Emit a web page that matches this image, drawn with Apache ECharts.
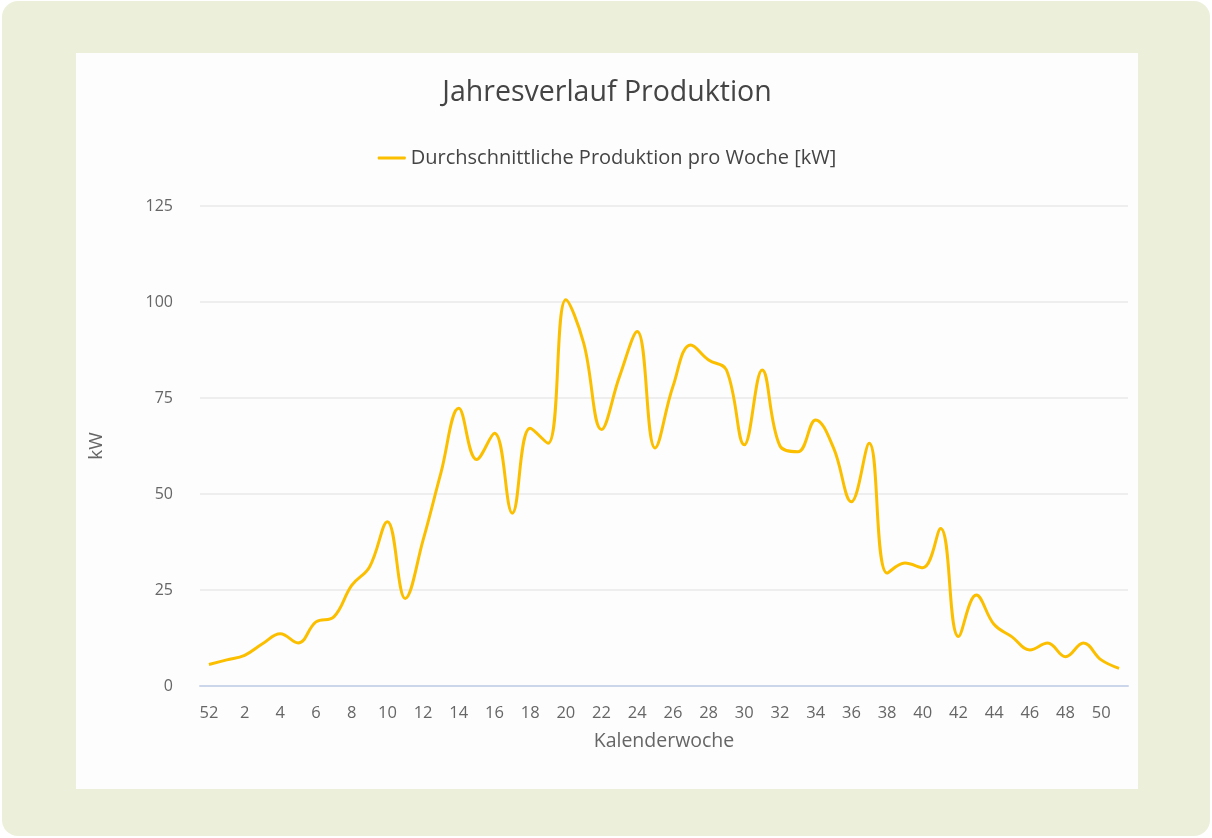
<!DOCTYPE html>
<html>
<head>
<meta charset="utf-8">
<script src="https://cdn.jsdelivr.net/npm/echarts@6/dist/echarts.min.js"></script>
<style>
  html, body { margin: 0; padding: 0; background: #ffffff; }
  #panel {
    position: absolute; left: 2px; top: 1px; width: 1208px; height: 835px;
    background: #ecf0db; border-radius: 16px;
  }
  #chart {
    position: absolute; left: 76px; top: 53px; width: 1062px; height: 736px;
    background: #fdfdfd;
  }
</style>
</head>
<body>
<div id="panel"></div>
<div id="chart"></div>
<script>
// Kalenderwochen: 52 of previous year, then 1..51
const weeks = ['52', '1', '2', '3', '4', '5', '6', '7', '8', '9', '10', '11', '12', '13',
  '14', '15', '16', '17', '18', '19', '20', '21', '22', '23', '24', '25', '26', '27',
  '28', '29', '30', '31', '32', '33', '34', '35', '36', '37', '38', '39', '40', '41',
  '42', '43', '44', '45', '46', '47', '48', '49', '50', '51'];

// average production per week [kW]
const production = [5.6, 6.8, 8.0, 11.0, 13.6, 11.2, 16.7, 18.0, 26.2, 31.0,
  42.8, 22.8, 38.0, 55.5, 72.3, 59.0, 65.8, 45.0, 67.1, 63.2,
  100.6, 89.3, 66.8, 80.5, 92.3, 62.0, 78.0, 88.8, 84.9, 82.3,
  62.8, 82.3, 62.5, 61.0, 69.3, 62.0, 48.0, 63.2, 29.4, 32.0,
  30.8, 41.0, 12.9, 23.7, 16.0, 12.8, 9.4, 11.2, 7.6, 11.2,
  6.8, 4.6];

const yTicks = [0, 25, 50, 75, 100, 125];

const myChart = echarts.init(document.getElementById('chart'));
const font = '"Open Sans", Lato, sans-serif';

let option = {
  backgroundColor: '#fdfdfd',
  animation: false,
  title: {
    text: 'Jahresverlauf Produktion',
    left: 'center',
    top: 20,
    textStyle: { color: '#444', fontSize: 28.5, fontWeight: 'normal', fontFamily: font }
  },
  legend: {
    top: 90,
    left: 'center',
    icon: 'roundRect',
    itemWidth: 28,
    itemHeight: 3,
    itemGap: 10,
    textStyle: { color: '#444', fontSize: 20, fontFamily: font },
    data: ['Durchschnittliche Produktion pro Woche [kW]']
  },
  grid: { left: 124, right: 10, top: 153, bottom: 103 },
  xAxis: {
    type: 'category',
    data: weeks,
    boundaryGap: true,
    name: 'Kalenderwoche',
    nameLocation: 'middle',
    nameGap: 45,
    nameTextStyle: { color: '#666', fontSize: 19.5, fontFamily: font },
    axisLine: { lineStyle: { color: '#ccd6eb', width: 2 } },
    axisTick: { show: false },
    axisLabel: { interval: 1, color: '#666', fontSize: 16.5, margin: 19, fontFamily: font }
  },
  yAxis: {
    type: 'value',
    min: yTicks[0],
    max: yTicks[yTicks.length - 1],
    interval: 25,
    name: 'kW',
    nameLocation: 'middle',
    nameGap: 94,
    nameRotate: 90,
    nameTextStyle: { color: '#666', fontSize: 19, fontFamily: font },
    axisLine: { show: false },
    axisTick: { show: false },
    axisLabel: { color: '#666', fontSize: 16, margin: 27, fontFamily: font },
    splitLine: { lineStyle: { color: '#e9e9e9', width: 1.5 } }
  },
  series: [{
    name: 'Durchschnittliche Produktion pro Woche [kW]',
    type: 'line',
    data: production,
    smooth: 0.4,
    showSymbol: false,
    lineStyle: { color: '#fbbf00', width: 3 },
    itemStyle: { color: '#fbbf00' }
  }]
};
myChart.setOption(option);
</script>
</body>
</html>
